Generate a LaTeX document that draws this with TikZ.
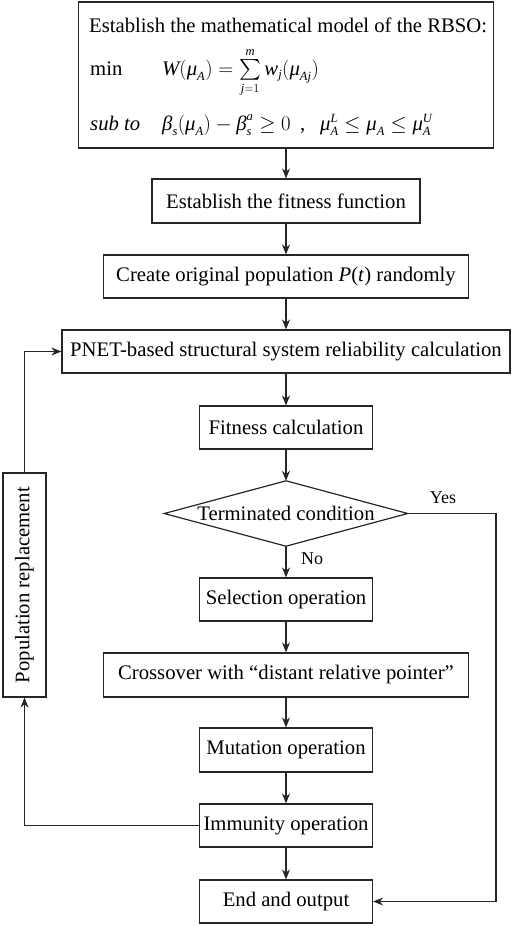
\documentclass[tikz,border=0pt]{standalone}
\usepackage{amsmath}
\usepackage{fontspec}
\setmainfont{Liberation Serif}
\usetikzlibrary{arrows.meta}
\DeclareMathSizes{20.7}{20.7}{12.5}{9}
\newcommand\iv[1]{\text{\itshape #1}}
\begin{document}
\begin{tikzpicture}[x=1pt,y=-1pt,
  font=\fontsize{20.7}{24}\selectfont,
  box/.style={draw=black!85, line width=1.2pt, inner sep=0pt, align=center},
  txt/.style={anchor=base west, inner sep=0pt},
  arr/.style={draw=black!85, line width=1.2pt, -{Stealth[length=10pt,width=8pt]}},
  lbl/.style={font=\fontsize{18}{20}\selectfont, inner sep=0pt}]
\useasboundingbox (0,0) rectangle (512,926);

\node[box, minimum width=415pt, minimum height=146pt] (model) at (286,75) {};
\node[txt] (title) at (89,32) {Establish the mathematical model of the RBSO:};
\node[txt] (minlbl) at (90,75) {min};
\node[txt] (obj) at (162,75) {$\iv{W}(\iv{μ}_{\iv{A}})=\sum\limits_{\iv{j}=1}^{\iv{m}}\iv{w}_{\iv{j}}(\iv{μ}_{\iv{Aj}})$};
\node[txt] (sublbl) at (90,130) {\itshape sub to};
\node[txt] (con1) at (162,130) {$\iv{β}_{\iv{s}}(\iv{μ}_{\iv{A}})-\iv{β}_{\iv{s}}^{\iv{a}}\geq 0$};
\node[txt] (comma) at (300,130) {,};
\node[txt] (con2) at (320,130) {$\iv{μ}_{\iv{A}}^{\iv{L}}\leq\iv{μ}_{\iv{A}}\leq\iv{μ}_{\iv{A}}^{\iv{U}}$};

\node[box, minimum width=268pt, minimum height=44pt] (ff) at (286,201) {Establish the fitness function};
\node[box, minimum width=365pt, minimum height=43pt] (create) at (286,276.5) {Create original population \textit{P}(\textit{t}) randomly};
\node[box, minimum width=448pt, minimum height=43pt] (pnet) at (286,351.5) {PNET-based structural system reliability calculation};
\node[box, minimum width=173pt, minimum height=43pt] (fitcalc) at (286,427.5) {Fitness calculation};
\node[inner sep=0pt, minimum width=243pt, minimum height=65pt] (diam) at (286,513.5) {Terminated condition};
\draw[draw=black!85, line width=1.2pt, line join=miter] (diam.west) -- (diam.north) -- (diam.east) -- (diam.south) -- cycle;
\node[box, minimum width=173pt, minimum height=43pt] (select) at (286,599.5) {Selection operation};
\node[box, minimum width=365pt, minimum height=44pt] (cross) at (286,675) {Crossover with “distant relative pointer”};
\node[box, minimum width=173pt, minimum height=44pt] (mut) at (286,750) {Mutation operation};
\node[box, minimum width=173pt, minimum height=43pt] (imm) at (286,825.5) {Immunity operation};
\node[box, minimum width=173pt, minimum height=43pt] (endn) at (286,901.5) {End and output};
\node[box, rotate=90, minimum width=224pt, minimum height=43pt] (pop) at (24.5,585) {Population replacement};

\draw[arr] (model.south) -- (ff.north);
\draw[arr] (ff.south) -- (create.north);
\draw[arr] (create.south) -- (pnet.north);
\draw[arr] (pnet.south) -- (fitcalc.north);
\draw[arr] (fitcalc.south) -- (diam.north);
\draw[arr] (diam.south) -- (select.north);
\draw[arr] (select.south) -- (cross.north);
\draw[arr] (cross.south) -- (mut.north);
\draw[arr] (mut.south) -- (imm.north);
\draw[arr] (imm.south) -- (endn.north);
\draw[arr] (imm.west) -| (pop.west);
\draw[arr] (pop.east) |- (pnet.west);
\coordinate (yc) at (496,513.5);
\draw[arr] (diam.east) -- (yc) |- (endn.east);

\node[lbl] (yes) at (443,498) {Yes};
\node[lbl] (no) at (312,559) {No};
\end{tikzpicture}
\end{document}
